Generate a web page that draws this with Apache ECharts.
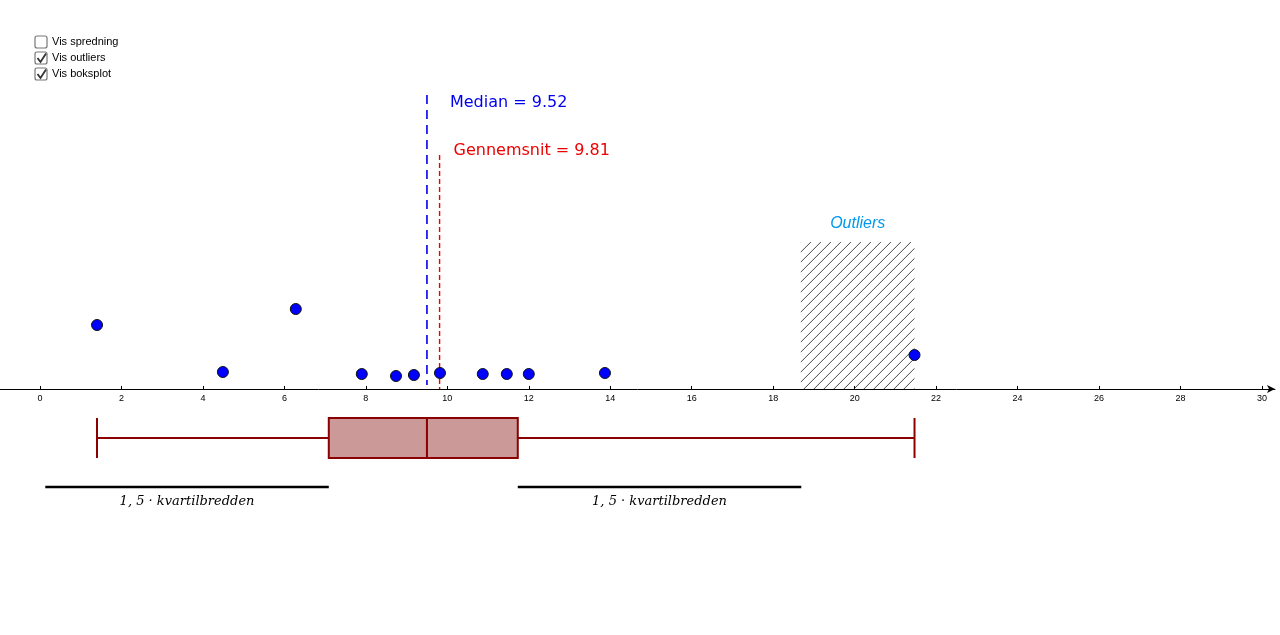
<!DOCTYPE html>
<html><head><meta charset="utf-8">
<script src="https://cdn.jsdelivr.net/npm/echarts@6/dist/echarts.min.js"></script>
<style>html,body{margin:0;padding:0;background:#fff}#c{width:1280px;height:635px}</style>
</head><body><div id="c"></div>
<script>
// data
const pointX = [1.40, 4.49, 6.28, 7.90, 8.74, 9.18, 9.82, 10.87, 11.46, 12.00, 13.87, 21.47];
const pointY = [64, 17, 80, 15, 13, 14, 16, 15, 15, 15, 16, 34];
const boxStats = {min: 1.40, q1: 7.09, median: 9.50, q3: 11.73, max: 21.47};
const medianValue = 9.52;
const meanValue = 9.81;
const outlierFrom = 18.68;
const outlierTo = 21.47;
const tickValues = [0,2,4,6,8,10,12,14,16,18,20,22,24,26,28,30];
const checkboxLabels = ['Vis spredning', 'Vis outliers', 'Vis boksplot'];
const checkboxChecked = [false, true, true];

const chart = echarts.init(document.getElementById('c'));
const iqr15 = 1.5 * (boxStats.q3 - boxStats.q1);

const graphics = [];
checkboxLabels.forEach((t, i) => {
  const y = 36 + i * 16;
  graphics.push({type:'rect', shape:{x:35, y:y, width:12, height:12, r:2}, style:{fill:'#fff', stroke:'#777', lineWidth:1.2}});
  if (checkboxChecked[i]) graphics.push({type:'polyline', shape:{points:[[37.5,y+6],[40.5,y+10],[46,y+1.5]]}, style:{stroke:'#333', lineWidth:1.8, fill:null}});
  graphics.push({type:'text', style:{x:52, y:y+6, text:t, fill:'#000', font:'11px Arial, "Liberation Sans"', verticalAlign:'middle'}});
});

chart.setOption({
  animation:false,
  grid:{left:0, right:5, top:0, bottom:0, outerBoundsMode:'none', containLabel:false},
  xAxis:{type:'value', min:-0.982, max:30.32, splitLine:{show:false},
    axisLine:{onZero:true, lineStyle:{color:'#000', width:1}, symbol:['none','arrow'], symbolSize:[6,8]},
    axisTick:{show:true, customValues:tickValues, inside:true, length:3, lineStyle:{color:'#000'}},
    axisLabel:{show:false}},
  yAxis:{type:'value', min:-246, max:389, show:false},
  graphic:graphics,
  series:[
    {type:'custom', z:1, data:tickValues.map(v=>[v]), silent:true,
      renderItem:(p, api) => {
        const c = api.coord([api.value(0), 0]);
        return {type:'text', style:{x:c[0], y:c[1]+10, text:String(api.value(0)), fill:'#000', font:'9px Arial, "Liberation Sans"', align:'center', verticalAlign:'middle'}};
      }},
    {type:'custom', z:1, data:[[outlierFrom, outlierTo]], silent:true,
      renderItem:(p, api) => {
        const a = api.coord([api.value(0), 147]);
        const b = api.coord([api.value(1), 0]);
        const w = b[0]-a[0], h = b[1]-a[1];
        const lines = [];
        for (let k = -h; k < w + h; k += 10) {
          lines.push({type:'line', shape:{x1:a[0]+k, y1:b[1], x2:a[0]+k+h, y2:a[1]}, style:{stroke:'#333', lineWidth:0.9}});
        }
        return {type:'group', children:[{type:'group', children:lines,
          clipPath:{type:'rect', shape:{x:a[0], y:a[1], width:w, height:h}}}]};
      }},
    {type:'custom', z:2, data:[[boxStats.min, boxStats.q1, boxStats.median, boxStats.q3, boxStats.max]], silent:true,
      renderItem:(p, api) => {
        const st = {stroke:'#8b0000', lineWidth:2, fill:null};
        const yc = api.coord([0,-49])[1], yt = api.coord([0,-29])[1], yb = api.coord([0,-69])[1];
        const x = i => api.coord([api.value(i),0])[0];
        return {type:'group', children:[
          {type:'line', shape:{x1:x(0), y1:yc, x2:x(1), y2:yc}, style:st},
          {type:'line', shape:{x1:x(3), y1:yc, x2:x(4), y2:yc}, style:st},
          {type:'line', shape:{x1:x(0), y1:yt, x2:x(0), y2:yb}, style:st},
          {type:'line', shape:{x1:x(4), y1:yt, x2:x(4), y2:yb}, style:st},
          {type:'rect', shape:{x:x(1), y:yt, width:x(3)-x(1), height:yb-yt}, style:{stroke:'#8b0000', lineWidth:2, fill:'#cc9999'}},
          {type:'line', shape:{x1:x(2), y1:yt, x2:x(2), y2:yb}, style:st}
        ]};
      }},
    {type:'custom', z:2, data:[[boxStats.q1 - iqr15, boxStats.q1], [boxStats.q3, boxStats.q3 + iqr15]], silent:true,
      renderItem:(p, api) => {
        const a = api.coord([api.value(0), -98]), b = api.coord([api.value(1), -98]);
        return {type:'group', children:[
          {type:'line', shape:{x1:a[0], y1:a[1], x2:b[0], y2:b[1]}, style:{stroke:'#000', lineWidth:2.5}},
          {type:'text', style:{x:(a[0]+b[0])/2, y:a[1]+15, text:'1, 5 · kvartilbredden', fill:'#000',
            font:'italic 13px "DejaVu Serif", "Liberation Serif", serif', align:'center', verticalAlign:'middle'}}
        ]};
      }},
    {type:'custom', z:3, data:[[medianValue, meanValue]], silent:true,
      renderItem:(p, api) => {
        const m = api.coord([boxStats.median, 294]), m0 = api.coord([boxStats.median, 4]);
        const g = api.coord([api.value(1), 234]), g0 = api.coord([api.value(1), 0]);
        return {type:'group', children:[
          {type:'line', shape:{x1:m[0], y1:m[1], x2:m0[0], y2:m0[1]}, style:{stroke:'#0000ee', lineWidth:1.6, lineDash:[9,6]}},
          {type:'line', shape:{x1:g[0], y1:g[1], x2:g0[0], y2:g0[1]}, style:{stroke:'#ee0000', lineWidth:1.4, lineDash:[5,3]}},
          {type:'text', style:{x:m[0]+23, y:m[1]+8, text:'Median = ' + api.value(0).toFixed(2), fill:'#0000ee', font:'16px "DejaVu Sans", sans-serif', verticalAlign:'middle'}},
          {type:'text', style:{x:g[0]+14, y:g[1]-4, text:'Gennemsnit = ' + api.value(1).toFixed(2), fill:'#ee0000', font:'16px "DejaVu Sans", sans-serif', verticalAlign:'middle'}},
          {type:'text', style:{x:api.coord([(outlierFrom+outlierTo)/2,0])[0], y:api.coord([0,165])[1], text:'Outliers', fill:'#0099ee', font:'italic 16px Arial, "Liberation Sans"', align:'center', verticalAlign:'middle'}}
        ]};
      }},
    {type:'scatter', z:4, data:pointX.map((v,i)=>[v, pointY[i]]), symbolSize:11,
      itemStyle:{color:'#0000ff', borderColor:'#111', borderWidth:1, opacity:1}}
  ]
});
</script></body></html>
